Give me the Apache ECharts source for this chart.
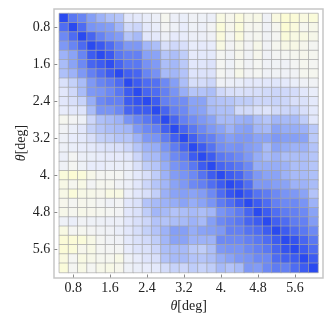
<!DOCTYPE html>
<html>
<head>
<meta charset="utf-8">
<style>
html, body { margin: 0; padding: 0; background: #fff; }
#chart { width: 332px; height: 320px; }
</style>
<script src="https://cdn.jsdelivr.net/npm/echarts@6/dist/echarts.min.js"></script>
</head>
<body>
<div id="chart"></div>
<script>
var thetaBins = ['0.6','0.8','1.','1.2','1.4','1.6','1.8','2.','2.2','2.4','2.6','2.8','3.','3.2',
    '3.4','3.6','3.8','4.','4.2','4.4','4.6','4.8','5.','5.2','5.4','5.6','5.8','6.'];
var tickLabels = ['0.8','1.6','2.4','3.2','4.','4.8','5.6'];
var cellRows = [
    [100,80,74,62,52,45,42,23,22,19,17,9,17,18,14,15,17,5,8,3,7,6,14,4,0,1,4,2],
    [84,100,85,67,64,62,50,31,33,22,19,11,15,20,15,17,12,2,8,2,9,9,14,9,0,3,9,7],
    [72,85,100,88,75,67,63,42,48,23,22,16,21,20,17,17,14,3,10,3,10,9,13,10,2,5,5,7],
    [65,74,86,100,93,85,75,65,65,50,46,28,32,28,20,21,20,5,12,7,12,7,13,9,6,6,8,10],
    [52,60,74,92,100,93,80,76,76,61,60,42,46,38,21,22,22,10,14,8,13,8,14,11,10,9,8,9],
    [47,60,72,88,92,98,88,80,80,68,64,46,49,40,23,24,26,10,15,9,13,10,14,13,14,11,9,10],
    [45,52,65,76,84,92,100,90,88,74,68,48,50,43,25,26,26,10,14,7,12,10,14,13,14,13,9,9],
    [27,36,47,65,74,78,85,100,92,85,83,72,62,46,29,30,33,14,17,18,22,22,23,24,22,18,14,13],
    [23,32,47,65,67,72,80,92,100,88,85,76,67,54,42,43,46,32,28,27,28,29,31,33,32,30,23,19],
    [23,28,35,55,72,76,76,92,96,100,92,76,72,70,60,60,46,43,42,38,38,33,33,35,33,28,27,22],
    [20,23,25,47,67,67,72,88,92,92,100,88,76,72,62,60,48,45,45,31,31,27,25,31,33,35,28,22],
    [9,12,16,33,45,48,52,67,74,80,88,100,88,76,70,65,60,48,48,52,55,46,42,50,48,48,38,23],
    [13,18,23,36,42,46,48,50,65,72,76,90,100,88,80,72,65,60,52,60,62,50,48,60,55,55,52,40],
    [16,20,22,28,36,38,42,42,52,65,67,78,90,100,90,80,76,67,62,65,65,60,60,65,62,62,60,40],
    [16,18,20,22,25,27,28,33,42,52,55,67,78,88,100,92,82,70,67,68,63,60,48,60,55,52,52,43],
    [17,11,17,18,20,21,21,23,33,46,48,60,72,78,92,100,92,80,76,72,65,55,48,52,46,46,46,42],
    [14,10,15,20,20,18,18,19,27,38,42,55,67,72,80,92,100,88,84,80,72,55,55,55,52,46,46,42],
    [2,0,2,7,10,10,10,16,22,28,38,52,63,67,72,82,92,100,92,88,76,65,60,60,52,48,48,45],
    [6,9,6,12,9,9,13,17,23,33,42,50,60,65,72,76,84,92,100,95,84,65,65,62,60,52,52,47],
    [6,2,6,7,8,5,5,17,23,28,37,53,60,62,60,63,72,85,95,100,92,82,78,72,67,65,60,43],
    [8,10,8,9,11,14,12,23,27,43,48,52,55,60,55,60,67,78,84,92,100,92,85,76,72,72,67,52],
    [7,9,7,8,9,10,12,23,27,38,50,48,43,46,48,46,50,67,72,78,88,100,92,84,78,76,72,60],
    [15,18,13,15,16,17,17,23,28,33,43,43,46,48,52,48,62,72,76,80,88,92,100,90,85,78,76,63],
    [5,10,9,11,13,14,18,23,29,36,43,52,62,62,55,60,62,65,76,76,82,85,92,100,92,85,80,72],
    [1,1,2,6,10,13,14,22,27,31,38,50,60,60,52,52,52,72,72,72,76,80,85,92,100,96,88,80],
    [1,2,8,6,10,11,11,20,25,27,33,46,48,48,40,38,46,65,67,67,72,76,80,88,96,100,92,85],
    [4,10,5,7,9,9,6,15,20,25,28,43,48,48,43,42,46,55,60,65,67,72,72,85,90,92,100,92],
    [2,10,6,10,7,6,8,15,18,20,22,30,35,33,38,35,38,48,43,47,65,63,72,78,76,85,92,100]
];
var colorStops = ['#fcfcd4','#f4f5f2','#e8ecfb','#d4dcfa','#bac9f9','#a2b6f8',
    '#8aa3f6','#728df4','#5a78f2','#4260f1','#2a4af0'];

var cells = [];
for (var r = 0; r < cellRows.length; r++) {
    for (var c = 0; c < cellRows[r].length; c++) {
        cells.push([c, r, cellRows[r][c]]);
    }
}

function isTick(index, name) {
    return tickLabels.indexOf(name) >= 0;
}

var fontName = '"Liberation Serif"';
var axisName = {
    text: '{i|\u03b8}[deg]',
    rich: { i: { fontFamily: fontName, fontStyle: 'italic', fontSize: 14, color: '#222' } }
};

function makeAxis(extra) {
    var axis = {
        type: 'category',
        data: thetaBins,
        offset: 5,
        name: axisName.text,
        nameLocation: 'middle',
        nameMoveOverlap: false,
        nameTextStyle: { fontFamily: fontName, fontSize: 14, color: '#222', rich: axisName.rich },
        axisLine: { show: false },
        axisTick: {
            show: true,
            inside: true,
            length: 3,
            alignWithLabel: true,
            interval: isTick,
            lineStyle: { color: '#8a8a8a', width: 1 }
        },
        axisLabel: {
            show: true,
            interval: isTick,
            margin: 4,
            fontFamily: fontName,
            fontSize: 14,
            color: '#222'
        },
        splitLine: { show: false },
        splitArea: { show: false }
    };
    for (var k in extra) {
        axis[k] = extra[k];
    }
    return axis;
}

var chart = echarts.init(document.getElementById('chart'), null, { renderer: 'canvas' });
var option = {
    animation: false,
    backgroundColor: '#fff',
    grid: [
        { left: 59.3, top: 13.5, width: 258.7, height: 259, show: false, outerBoundsMode: 'none' },
        { left: 54, top: 9, width: 269, height: 269, show: true, backgroundColor: 'transparent',
          borderColor: '#c6c6c6', borderWidth: 1.5, z: 0, outerBoundsMode: 'none' }
    ],
    xAxis: makeAxis({ position: 'bottom', nameGap: 22 }),
    yAxis: makeAxis({ position: 'left', inverse: true, nameGap: 26 }),
    visualMap: {
        show: false,
        type: 'continuous',
        min: 0,
        max: 100,
        dimension: 2,
        inRange: { color: colorStops }
    },
    series: [
        {
            type: 'heatmap',
            data: cells,
            progressive: 0,
            itemStyle: { borderColor: 'rgba(165,165,165,0.65)', borderWidth: 1 },
            emphasis: { disabled: true }
        }
    ]
};
chart.setOption(option);
window.onresize = chart.resize;
</script>
</body>
</html>
